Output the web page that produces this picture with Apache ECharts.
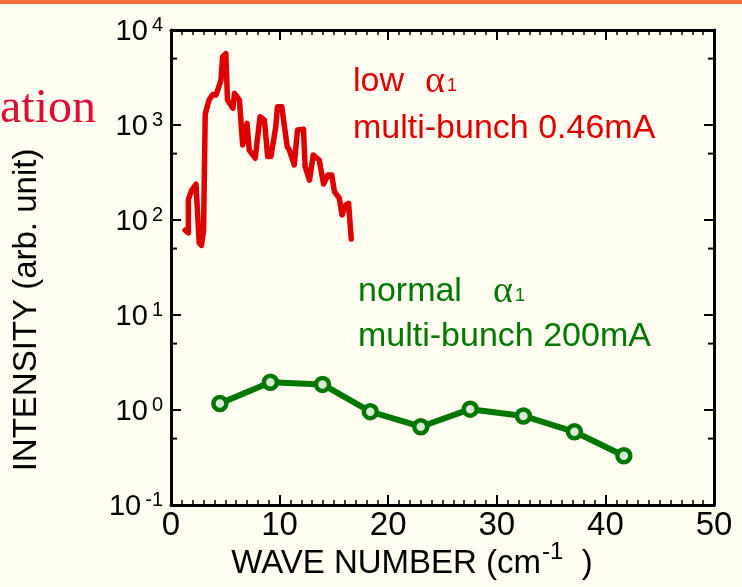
<!DOCTYPE html>
<html>
<head>
<meta charset="utf-8">
<script src="https://cdn.jsdelivr.net/npm/echarts@6/dist/echarts.min.js"></script>
<style>
  html, body { margin: 0; padding: 0; background: #FFFEF0; }
  #chart { width: 742px; height: 587px; }
</style>
</head>
<body>
<div id="chart"></div>
<script>
// Low alpha1, multi-bunch 0.46 mA spectrum (wave number in cm^-1, intensity in arb. unit)
var lowWave = [1.3, 1.6, 1.6, 1.9, 2.3, 2.6, 2.8, 3.0, 3.15, 3.5, 3.85, 4.15, 4.6, 4.75, 5.05, 5.2, 5.7, 5.85, 6.3, 6.6, 7.0, 7.2, 7.75, 8.2, 8.6, 8.9, 9.2, 9.65, 9.8, 10.2, 10.7, 10.9, 11.35, 11.65, 12.2, 12.35, 12.75, 13.1, 13.65, 14.05, 14.45, 14.8, 15.05, 15.5, 15.75, 16.1, 16.35, 16.6];
var lowIntensity = [78, 73, 165, 205, 238, 57, 54, 78, 1300, 1830, 2100, 2070, 2950, 5200, 5650, 1830, 1500, 2150, 1830, 615, 1040, 545, 447, 1220, 1130, 465, 465, 960, 1560, 1560, 590, 545, 380, 885, 900, 365, 263, 483, 428, 239, 298, 298, 199, 169, 113, 144, 150, 63];

// Normal alpha1, multi-bunch 200 mA
var normalWave = [4.5, 9.15, 13.95, 18.35, 23.0, 27.55, 32.45, 37.15, 41.7];
var normalIntensity = [1.17, 1.96, 1.86, 0.96, 0.667, 1.02, 0.865, 0.59, 0.33];

// Minor tick values on the logarithmic intensity axis
var yMinorTicks = [0.5, 5, 50, 500, 5000];

var RED = '#DE0000';
var GREEN = '#007800';
var SANS = '"Liberation Sans", Arial, Helvetica, sans-serif';
var SERIF = '"Liberation Serif", "Times New Roman", serif';

function zip(xs, ys) { return xs.map(function (x, i) { return [x, ys[i]]; }); }

var chart = echarts.init(document.getElementById('chart'), null, { renderer: 'canvas' });

var frameLine = { show: true, onZero: false, lineStyle: { color: '#000', width: 3 } };
var majorTick = { show: true, inside: true, length: 10, lineStyle: { color: '#000', width: 2 } };
var xMinor = { show: true, splitNumber: 10, length: 5, lineStyle: { color: '#000', width: 1.5 } };

var option = {
  backgroundColor: '#FFFEF0',
  animation: false,
  grid: { left: 171, right: 28, top: 30, bottom: 82, containLabel: false },
  xAxis: [
    {
      type: 'value', min: 0, max: 50, interval: 10, position: 'bottom',
      axisLine: frameLine, axisTick: majorTick, minorTick: xMinor,
      splitLine: { show: false },
      axisLabel: { show: true, margin: 4, color: '#000', fontSize: 33, fontFamily: SANS }
    },
    {
      type: 'value', min: 0, max: 50, interval: 10, position: 'top',
      axisLine: frameLine, axisTick: majorTick, minorTick: xMinor,
      splitLine: { show: false },
      axisLabel: { show: false }
    }
  ],
  yAxis: [
    {
      type: 'log', logBase: 10, min: 0.1, max: 10000, position: 'left',
      axisLine: frameLine, axisTick: majorTick,
      splitLine: { show: false },
      axisLabel: {
        show: true, margin: 8, color: '#000',
        formatter: function (v) {
          var e = Math.round(Math.log10(v));
          return '{b|10}{e|' + e + '}';
        },
        rich: {
          b: { fontSize: 29, fontFamily: SANS, color: '#000', lineHeight: 30, padding: [4, 0, 0, 0] },
          e: { fontSize: 20, fontFamily: SANS, color: '#000', lineHeight: 20, verticalAlign: 'top', padding: [0, 0, 0, 4] }
        }
      }
    },
    {
      type: 'log', logBase: 10, min: 0.1, max: 10000, position: 'right',
      axisLine: frameLine, axisTick: majorTick,
      splitLine: { show: false },
      axisLabel: { show: false }
    }
  ],
  series: [
    {
      name: 'low', type: 'line', xAxisIndex: 0, yAxisIndex: 0,
      data: zip(lowWave, lowIntensity),
      showSymbol: false, symbol: 'none',
      lineStyle: { color: RED, width: 5.5, join: 'round', cap: 'round' },
      z: 3
    },
    {
      name: 'normal', type: 'line', xAxisIndex: 0, yAxisIndex: 0,
      data: zip(normalWave, normalIntensity),
      symbol: 'circle', symbolSize: 13,
      itemStyle: { color: '#d6ead6', borderColor: GREEN, borderWidth: 4.5 },
      lineStyle: { color: GREEN, width: 6 },
      z: 3
    },
    {
      name: 'yMinor', type: 'custom', xAxisIndex: 0, yAxisIndex: 0,
      data: yMinorTicks.map(function (v) { return [0, v]; }),
      encode: { x: 0, y: 1 },
      silent: true,
      renderItem: function (params, api) {
        var y = api.coord([0, api.value(1)])[1];
        var cs = params.coordSys;
        var st = { stroke: '#000', lineWidth: 2 };
        return {
          type: 'group',
          children: [
            { type: 'line', shape: { x1: cs.x, y1: y, x2: cs.x + 6, y2: y }, style: st },
            { type: 'line', shape: { x1: cs.x + cs.width, y1: y, x2: cs.x + cs.width - 6, y2: y }, style: st }
          ]
        };
      },
      z: 4
    }
  ],
  graphic: [
    // slide header rule
    { type: 'rect', left: 0, top: 0, shape: { x: 0, y: 0, width: 742, height: 4 }, style: { fill: '#F26B3A' }, silent: true },
    // tail of the slide title
    { type: 'text', x: 0, y: 133, style: { text: 'ation', font: '48px ' + SERIF, fill: '#DC0F37', textAlign: 'left', textVerticalAlign: 'bottom' }, silent: true },
    // y axis title
    { type: 'text', x: 27, y: 310, rotation: Math.PI / 2,
      style: { text: 'INTENSITY (arb. unit)', font: '33px ' + SANS, fill: '#000', textAlign: 'center', textVerticalAlign: 'middle' }, silent: true },
    // x axis title
    { type: 'text', x: 412, y: 560,
      style: {
        text: '{a|WAVE NUMBER (cm}{s|-1}{a|  )}',
        rich: {
          a: { fontSize: 33, fontFamily: SANS, fill: '#000', lineHeight: 40, verticalAlign: 'bottom' },
          s: { fontSize: 24, fontFamily: SANS, fill: '#000', lineHeight: 24, verticalAlign: 'top', padding: [0, 0, 0, 1] }
        },
        textAlign: 'center', textVerticalAlign: 'middle'
      }, silent: true },
    // annotations
    { type: 'text', x: 353, y: 82, style: { text: 'low', font: '34px ' + SANS, fill: RED, textVerticalAlign: 'middle' }, silent: true },
    { type: 'text', x: 425, y: 82, style: { text: 'α', font: '38px ' + SERIF, fill: RED, textVerticalAlign: 'middle' }, silent: true },
    { type: 'text', x: 447, y: 86, style: { text: '1', font: '18px ' + SANS, fill: RED, textVerticalAlign: 'middle' }, silent: true },
    { type: 'text', x: 353, y: 129, style: { text: 'multi-bunch 0.46mA', font: '34px ' + SANS, fill: RED, textVerticalAlign: 'middle' }, silent: true },
    { type: 'text', x: 358, y: 292, style: { text: 'normal', font: '34px ' + SANS, fill: GREEN, textVerticalAlign: 'middle' }, silent: true },
    { type: 'text', x: 493, y: 292, style: { text: 'α', font: '38px ' + SERIF, fill: GREEN, textVerticalAlign: 'middle' }, silent: true },
    { type: 'text', x: 515, y: 296, style: { text: '1', font: '18px ' + SANS, fill: GREEN, textVerticalAlign: 'middle' }, silent: true },
    { type: 'text', x: 358, y: 337, style: { text: 'multi-bunch 200mA', font: '34px ' + SANS, fill: GREEN, textVerticalAlign: 'middle' }, silent: true }
  ]
};

chart.setOption(option);
</script>
</body>
</html>
